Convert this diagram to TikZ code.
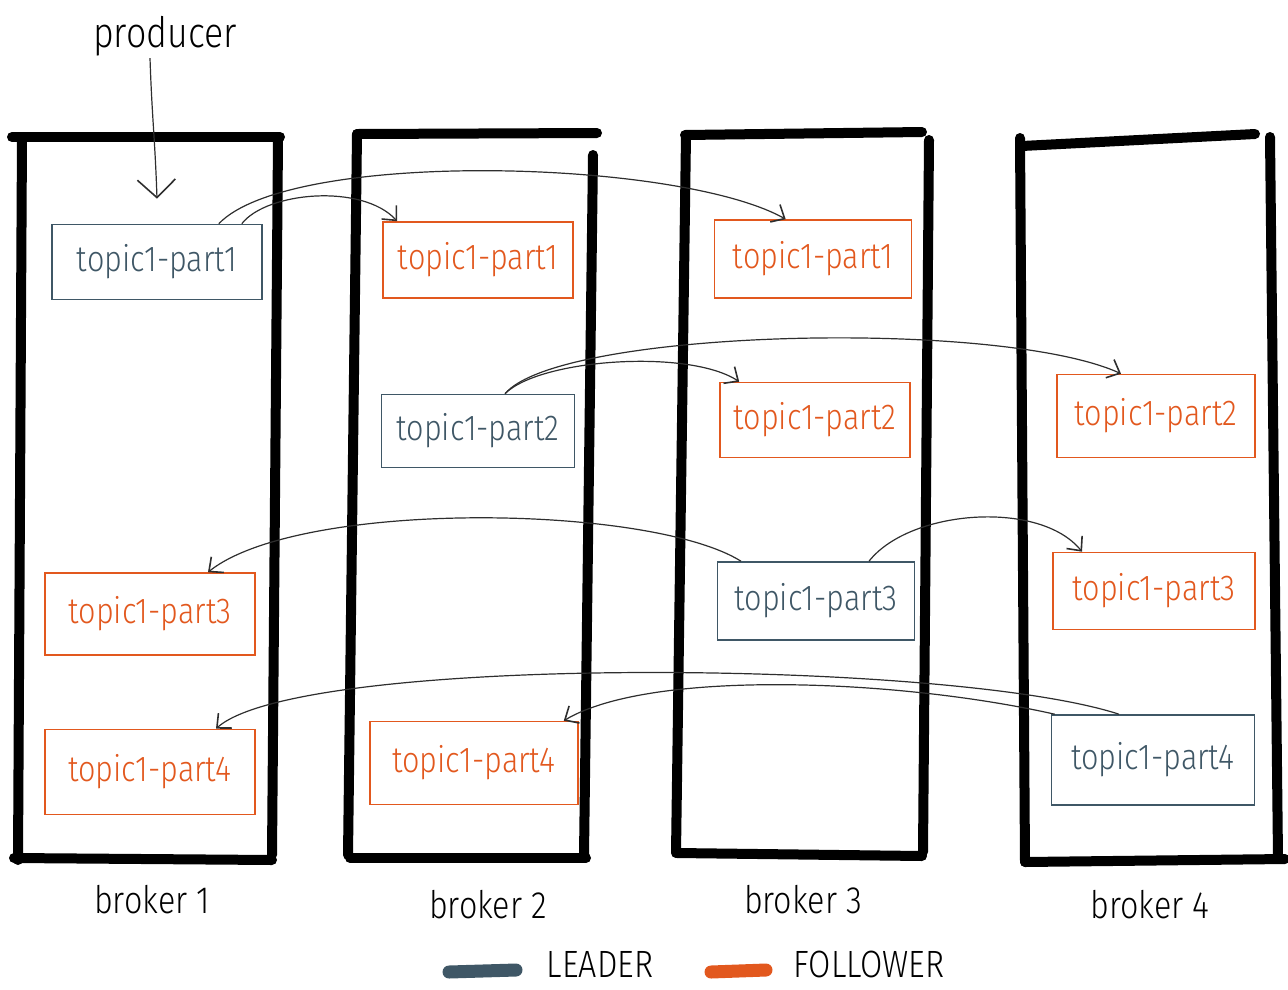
\documentclass[tikz,border=0pt]{standalone}
\usepackage{fontspec}
\newfontfamily\hand[FakeStretch=0.85]{Fira Sans Light}
\usetikzlibrary{arrows.meta}
\definecolor{leadc}{HTML}{3F5766}
\definecolor{follc}{HTML}{E2581E}
\definecolor{arrc}{HTML}{2E2E2E}
\tikzset{
  wall/.style={line width=10pt, line cap=round, draw=black},
  topicbox/.style={draw, line width=1.6pt, inner sep=0pt, font=\hand\fontsize{36}{36}\selectfont},
  leader/.style={topicbox, draw=leadc, text=leadc},
  follower/.style={topicbox, draw=follc, text=follc},
  link/.style={draw=arrc, line width=1.2pt, -{Straight Barb[length=11pt,width=20pt,line width=1.6pt]}},
  lab/.style={font=\hand\fontsize{38}{38}\selectfont, text=black, inner sep=2pt},
  legend/.style={line width=13pt, line cap=round},
}
\begin{document}
\begin{tikzpicture}[x=1pt,y=-1pt]
\useasboundingbox (0,0) rectangle (1288,989);

% broker walls
\draw[wall] (12,137) -- (280,137);
\draw[wall] (22,137) -- (18,860);
\draw[wall] (278,140) -- (272,855);
\draw[wall] (14,858) -- (272,860);

\draw[wall] (357,134) -- (597,133);
\draw[wall] (357,134) -- (348,855);
\draw[wall] (593,155) -- (584,855);
\draw[wall] (350,858) -- (586,858);

\draw[wall] (685,135) -- (922,132);
\draw[wall] (686,135) -- (676,853);
\draw[wall] (929,140) -- (923,852);
\draw[wall] (677,853) -- (922,856);

\draw[wall] (1020,138) -- (1025,862);
\draw[wall] (1022,146) -- (1255,134);
\draw[wall] (1270,137) -- (1278,858);
\draw[wall] (1025,862) -- (1285,859);

% topic boxes
\node[leader,   minimum width=210pt, minimum height=75pt] (b1p1) at (157,262) {topic1-part1};
\node[follower, minimum width=190pt, minimum height=76pt] (b2p1) at (478,260) {topic1-part1};
\node[follower, minimum width=197pt, minimum height=78pt] (b3p1) at (813,259) {topic1-part1};

\node[leader,   minimum width=193pt, minimum height=73pt] (b2p2) at (478,431) {topic1-part2};
\node[follower, minimum width=190pt, minimum height=75pt] (b3p2) at (815,420) {topic1-part2};
\node[follower, minimum width=198pt, minimum height=83pt] (b4p2) at (1156,416) {topic1-part2};

\node[follower, minimum width=210pt, minimum height=82pt] (b1p3) at (150,614) {topic1-part3};
\node[leader,   minimum width=197pt, minimum height=78pt] (b3p3) at (816,601) {topic1-part3};
\node[follower, minimum width=202pt, minimum height=77pt] (b4p3) at (1154,591) {topic1-part3};

\node[follower, minimum width=210pt, minimum height=85pt] (b1p4) at (150,772) {topic1-part4};
\node[follower, minimum width=208pt, minimum height=83pt] (b2p4) at (474,763) {topic1-part4};
\node[leader,   minimum width=203pt, minimum height=90pt] (b4p4) at (1153,760) {topic1-part4};

% producer
\node[lab, font=\hand\fontsize{42}{42}\selectfont] (producer) at (165,36) {producer};
\draw[draw=arrc, line width=1.2pt, -{Straight Barb[length=18pt,width=38pt,line width=1.6pt]}]
  ([xshift=-15pt]producer.south) .. controls +(2,60) and +(-2,-60) .. ([yshift=25pt]b1p1.north);

% replication links
\draw[link] ([xshift=-21pt]b1p1.north east) .. controls +(25,-32) and +(-35,-38) .. ([xshift=15pt]b2p1.north west);
\draw[link] ([xshift=-44pt]b1p1.north east) .. controls +(72,-75) and +(-107,-60) .. ([xshift=72pt]b3p1.north west);

\draw[link] ([xshift=27pt]b2p2.north) .. controls +(35,-35) and +(-50,-33) .. ([xshift=20pt]b3p2.north west);
\draw[link] ([xshift=27pt]b2p2.north) .. controls +(55,-65) and +(-121,-55) .. ([xshift=-35pt]b4p2.north);

\draw[link] ([xshift=-75pt]b3p3.north) .. controls +(-91,-57) and +(92,-73) .. ([xshift=58pt]b1p3.north);
\draw[link] ([xshift=53pt]b3p3.north) .. controls +(41,-52) and +(-42,-52) .. ([xshift=-72pt]b4p3.north);

\draw[link] ([xshift=-34pt]b4p4.north) .. controls +(-169,-55) and +(84,-75) .. ([xshift=66pt]b1p4.north);
\draw[link] ([xshift=4pt]b4p4.north west) .. controls +(-155,-35) and +(87,-52) .. ([xshift=-15pt]b2p4.north east);

% broker labels
\node[lab] (lb1) at (152,900) {broker 1};
\node[lab] (lb2) at (488,905) {broker 2};
\node[lab] (lb3) at (803,900) {broker 3};
\node[lab] (lb4) at (1150,905) {broker 4};

% legend
\draw[legend, leadc] (449,972) -- (516,970);
\draw[legend, follc] (711,972) -- (766,970);
\node[lab, font=\hand\fontsize{38}{38}\selectfont] (lleader) at (600,964) {LEADER};
\node[lab, font=\hand\fontsize{38}{38}\selectfont] (lfollower) at (869,964) {FOLLOWER};
\end{tikzpicture}
\end{document}
